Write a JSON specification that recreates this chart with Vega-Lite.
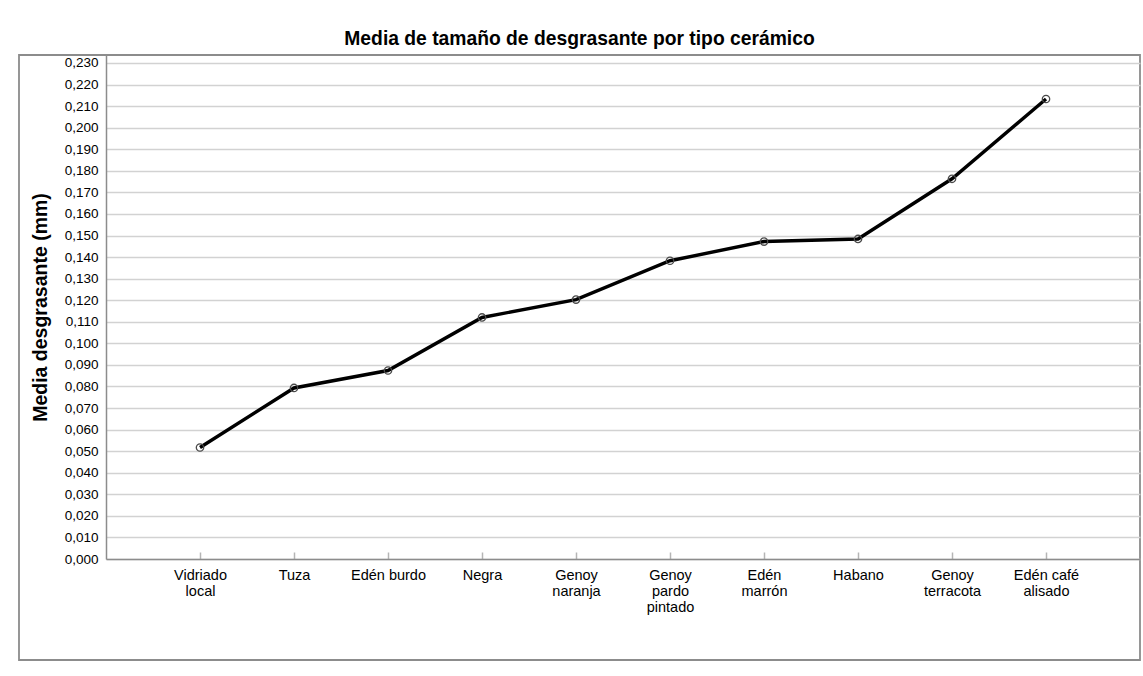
{
  "$schema": "https://vega.github.io/schema/vega-lite/v6.json",
  "width": 1121,
  "height": 605,
  "autosize": {"type": "none"},
  "padding": {"left": 19, "top": 55, "right": 3, "bottom": 16},
  "background": "white",
  "title": {
    "text": "Media de tamaño de desgrasante por tipo cerámico",
    "font": "Liberation Sans",
    "fontSize": 19.3,
    "fontWeight": "bold",
    "color": "#000000",
    "anchor": "middle",
    "offset": 6
  },
  "data": {
    "values": [
      {"tipo": "Vidriado\nlocal", "media": 0.0517},
      {"tipo": "Tuza", "media": 0.0793},
      {"tipo": "Edén burdo", "media": 0.0874},
      {"tipo": "Negra", "media": 0.1120},
      {"tipo": "Genoy\nnaranja", "media": 0.1203},
      {"tipo": "Genoy\npardo\npintado", "media": 0.1383},
      {"tipo": "Edén\nmarrón", "media": 0.1472},
      {"tipo": "Habano", "media": 0.1484},
      {"tipo": "Genoy\nterracota", "media": 0.1763},
      {"tipo": "Edén café\nalisado", "media": 0.2133}
    ]
  },
  "encoding": {
    "x": {
      "field": "tipo",
      "type": "nominal",
      "sort": null,
      "scale": {"type": "point", "range": [87, 1121], "padding": 1.055},
      "axis": {
        "title": null,
        "offset": -101,
        "labelExpr": "split(datum.label, '\\n')",
        "labelFont": "Liberation Sans",
        "labelFontSize": 14.5,
        "labelLineHeight": 16,
        "labelColor": "#000000",
        "labelAngle": 0,
        "labelBaseline": "top",
        "labelPadding": 16,
        "tickSize": -7,
        "tickColor": "#b5b5b5",
        "tickWidth": 1.5,
        "domainColor": "#8c8c8c",
        "domainWidth": 1.5,
        "grid": false
      }
    },
    "y": {
      "field": "media",
      "type": "quantitative",
      "scale": {"domain": [0, 0.2337], "range": [504, 0], "nice": false, "zero": true},
      "axis": {
        "title": "Media desgrasante (mm)",
        "titleFont": "Liberation Sans",
        "titleFontSize": 19.5,
        "titleFontWeight": "bold",
        "titleColor": "#000000",
        "titlePadding": 14,
        "offset": -87,
        "values": [0, 0.01, 0.02, 0.03, 0.04, 0.05, 0.06, 0.07, 0.08, 0.09, 0.1, 0.11, 0.12, 0.13, 0.14, 0.15, 0.16, 0.17, 0.18, 0.19, 0.2, 0.21, 0.22, 0.23],
        "labelExpr": "replace(format(datum.value, '.3f'), '.', ',')",
        "labelFont": "Liberation Sans",
        "labelFontSize": 13.5,
        "labelColor": "#000000",
        "labelPadding": 8,
        "labelOverlap": false,
        "ticks": false,
        "domainColor": "#8c8c8c",
        "domainWidth": 1.5,
        "grid": true,
        "gridColor": "#d2d2d2",
        "gridWidth": 1.3
      }
    }
  },
  "layer": [
    {"mark": {"type": "line", "color": "#000000", "strokeWidth": 3.4}},
    {"mark": {"type": "point", "shape": "circle", "filled": false, "stroke": "#4a4a4a", "strokeWidth": 1.3, "size": 55, "opacity": 1}}
  ],
  "config": {
    "view": {"stroke": "#8c8c8c", "strokeWidth": 1.8}
  }
}
